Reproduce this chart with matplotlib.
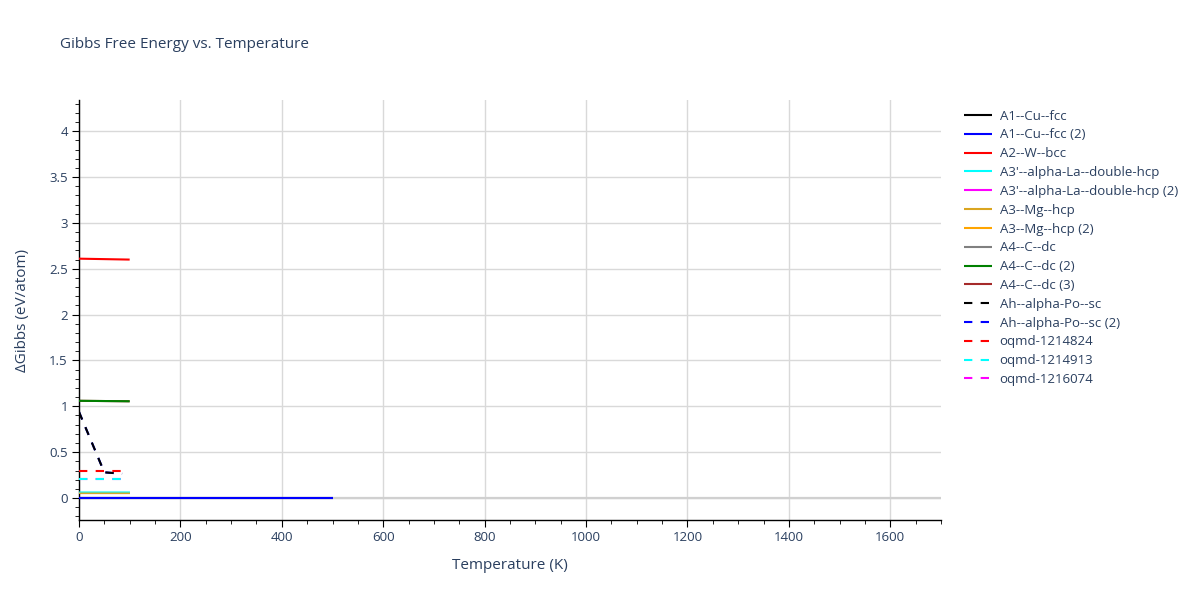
import matplotlib.pyplot as plt
from matplotlib.ticker import MultipleLocator

plt.rcParams['font.family'] = ['Open Sans', 'DejaVu Sans']

# --- data ---
names = ["A1--Cu--fcc", "A1--Cu--fcc (2)", "A2--W--bcc",
         "A3'--alpha-La--double-hcp", "A3'--alpha-La--double-hcp (2)",
         "A3--Mg--hcp", "A3--Mg--hcp (2)", "A4--C--dc", "A4--C--dc (2)",
         "A4--C--dc (3)", "Ah--alpha-Po--sc", "Ah--alpha-Po--sc (2)",
         "oqmd-1214824", "oqmd-1214913", "oqmd-1216074"]
temps = [[0, 500], [0, 500], [0, 100],
         [0, 100], [0, 100],
         [0, 100], [0, 100], [0, 100], [0, 100],
         [0, 100], [0, 50, 85], [0, 50, 85],
         [0, 90], [0, 90], [0, 90]]
gibbs = [[0, 0], [0, 0], [2.61, 2.60],
         [0.068, 0.068], [0.06, 0.06],
         [0.054, 0.054], [0.054, 0.054], [0, 0], [1.06, 1.055],
         [1.06, 1.055], [0.94, 0.28, 0.265], [0.94, 0.28, 0.265],
         [0.29, 0.29], [0.21, 0.21], [0.21, 0.21]]
colors = ["black", "blue", "red", "cyan", "magenta", "goldenrod", "orange",
          "gray", "green", "brown", "black", "blue", "red", "cyan", "magenta"]
dashed = [False] * 10 + [True] * 5
# traces that sit underneath another one in the picture
hidden = {0, 4, 6, 7, 9, 11, 14}

text_col = '#2a3f5f'

fig = plt.figure(figsize=(12, 6), dpi=100)
ax = fig.add_axes([0.0658, 0.1333, 0.7184, 0.7])

ax.axhline(0, color='#d0d0d0', lw=1.6, zorder=1)

handles = []
for i, name in enumerate(names):
    z = 2 if i in hidden else 3 + i * 0.01
    alpha = 1.0
    if i == 3:
        z = 4
        alpha = 0.55
    kw = dict(color=colors[i], lw=1.5, zorder=z, alpha=alpha, label=name)
    if dashed[i]:
        kw['dashes'] = (4, 4)
    line, = ax.plot(temps[i], gibbs[i], **kw)
    line.set_solid_capstyle('butt')
    handles.append(line)

ax.set_xlim(0, 1700)
ax.set_ylim(-0.24, 4.34)
ax.xaxis.set_major_locator(MultipleLocator(200))
ax.xaxis.set_minor_locator(MultipleLocator(50))
ax.yaxis.set_minor_locator(MultipleLocator(0.1))
ax.set_yticks([0, 0.5, 1, 1.5, 2, 2.5, 3, 3.5, 4])
ax.set_yticklabels(['0', '0.5', '1', '1.5', '2', '2.5', '3', '3.5', '4'])

ax.grid(True, which='major', color='#d9d9d9', lw=1, zorder=0)
ax.set_axisbelow(True)
for side in ['top', 'right']:
    ax.spines[side].set_visible(False)
for side in ['left', 'bottom']:
    ax.spines[side].set_color('black')
    ax.spines[side].set_linewidth(1)

ax.tick_params(which='major', direction='out', length=5, color='black',
               labelcolor=text_col, labelsize=9.5, pad=3)
ax.tick_params(which='minor', direction='out', length=3, color='black')

ax.set_xlabel('Temperature (K)', color=text_col, fontsize=11, labelpad=10)
ax.set_ylabel('ΔGibbs (eV/atom)', color=text_col, fontsize=11, labelpad=14)

fig.text(0.05, 0.925, 'Gibbs Free Energy vs. Temperature', color=text_col,
         fontsize=11, ha='left', va='center')

leg = fig.legend(handles=handles, loc='upper left',
                 bbox_to_anchor=(0.799, 0.826), frameon=False,
                 fontsize=9.5, handlelength=2.1, handletextpad=0.6,
                 labelspacing=0.44, borderaxespad=0)
for t in leg.get_texts():
    t.set_color(text_col)
for h in leg.legend_handles:
    h.set_alpha(1.0)

fig.savefig('out.png', dpi=100)
